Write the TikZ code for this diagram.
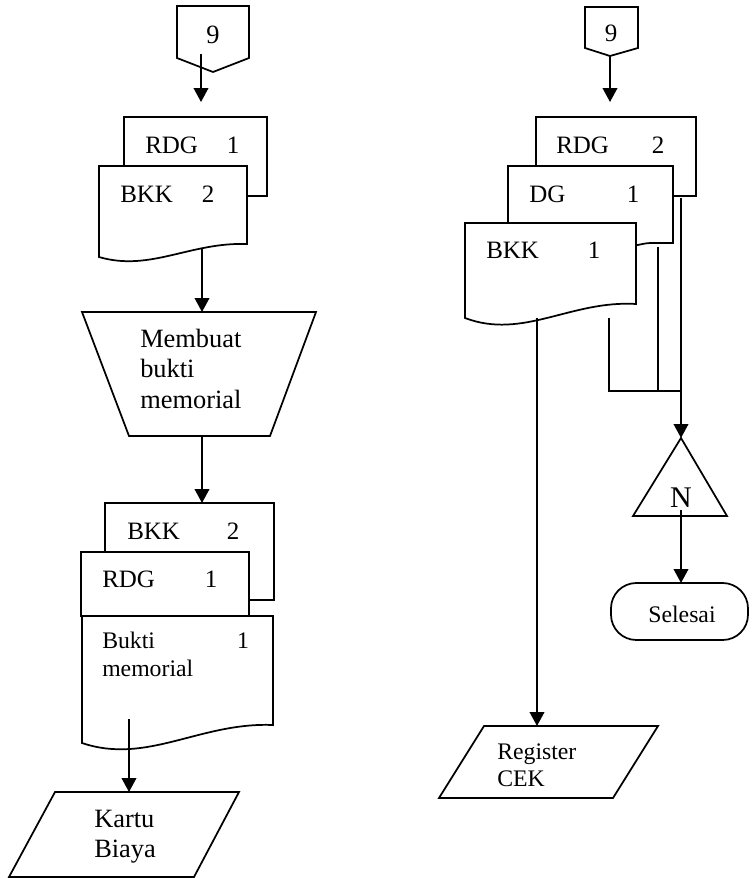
\documentclass[tikz,border=0pt]{standalone}
\usepackage{fontspec}
\setmainfont{Liberation Serif}
\usetikzlibrary{arrows.meta}
\begin{document}
\begin{tikzpicture}[x=0.75pt,y=-0.75pt,
  shp/.style={draw=black,line width=1.3pt,fill=white,line join=miter},
  conn/.style={draw=black,line width=1.3pt},
  arr/.style={conn,-{Triangle[length=10.5pt,width=11pt]}},
  lbl/.style={inner sep=0pt,font=\fontsize{18.75}{22}\selectfont},
  big/.style={lbl,font=\fontsize{19.8}{23}\selectfont},
  small/.style={lbl,font=\fontsize{17.8}{21}\selectfont}]
\useasboundingbox (0,0) rectangle (751,878);

% ---------------- left column ----------------
\draw[shp] (177,6) -- (249,6) -- (249,58) -- (213,72) -- (177,58) -- cycle;
\node[big,anchor=base] (n9L) at (213,43) {9};
\coordinate (c9Lout) at (201,54);
\coordinate (stackAin) at (201,102);
\draw[arr] (c9Lout) -- (stackAin);

\draw[shp] (124,117) rectangle (267,196);
\node[lbl,anchor=base west] (rdgA) at (145,153) {RDG};
\node[lbl,anchor=base] (rdgAn) at (233,153) {1};
\draw[shp] (99,166) -- (247,166) -- (247,244) .. controls (190,242) and (150,272) .. (99,257) -- cycle;
\node[lbl,anchor=base west] (bkkA) at (120,202) {BKK};
\node[lbl,anchor=base] (bkkAn) at (208,202) {2};

\coordinate (bkkAout) at (202,248);
\coordinate (trapIn) at (202,312);
\draw[arr] (bkkAout) -- (trapIn);

\draw[shp] (82,312) -- (316,312) -- (270,436) -- (129,436) -- cycle;
\node[big,anchor=base west] (t1) at (140,347) {Membuat};
\node[big,anchor=base west] (t2) at (140,377) {bukti};
\node[big,anchor=base west] (t3) at (140,408) {memorial};

\coordinate (trapOut) at (202,436);
\coordinate (stackBin) at (202,503);
\draw[arr] (trapOut) -- (stackBin);

\draw[shp] (105,503) rectangle (274,600);
\node[lbl,anchor=base west] (bkkB) at (127,539) {BKK};
\node[lbl,anchor=base] (bkkBn) at (233,539) {2};
\draw[shp] (81,552) rectangle (249,616);
\node[lbl,anchor=base west] (rdgB) at (102,587) {RDG};
\node[lbl,anchor=base] (rdgBn) at (211,587) {1};
\draw[shp] (82,616) -- (273,616) -- (273,725) .. controls (200,722) and (147,765) .. (82,743) -- cycle;
\node[small,anchor=base west] (bm1) at (102,648) {Bukti};
\node[small,anchor=base west] (bm2) at (102,676) {memorial};
\node[small,anchor=base] (bmn) at (243,648) {1};

\coordinate (bmOut) at (129,719);
\coordinate (kartuIn) at (129,792);
\draw[arr] (bmOut) -- (kartuIn);

\draw[shp] (55,792) -- (239,792) -- (194,877) -- (9,877) -- cycle;
\node[big,anchor=base west] (k1) at (94,827) {Kartu};
\node[big,anchor=base west] (k2) at (94,857) {Biaya};

% ---------------- right column ----------------
\draw[shp] (585,7) -- (638,7) -- (638,48) -- (610,56) -- (585,48) -- cycle;
\node[lbl,anchor=base] (n9R) at (611,41) {9};
\coordinate (c9Rout) at (610,56);
\coordinate (stackCin) at (610,102);
\draw[arr] (c9Rout) -- (stackCin);

\draw[shp] (536,117) rectangle (696,196);
\node[lbl,anchor=base west] (rdgC) at (556,153) {RDG};
\node[lbl,anchor=base] (rdgCn) at (658,153) {2};
\draw[shp] (508,166) -- (673,166) -- (673,243) -- (650,243) .. controls (630,244) and (600,262) .. (508,258) -- cycle;
\node[lbl,anchor=base west] (dgC) at (529,202) {DG};
\node[lbl,anchor=base] (dgCn) at (633,202) {1};
\draw[shp] (465,223) -- (636,223) -- (636,304) .. controls (571,300) and (523,340) .. (465,318) -- cycle;
\node[lbl,anchor=base west] (bkkC) at (486,258) {BKK};
\node[lbl,anchor=base] (bkkCn) at (594,258) {1};

\coordinate (bkkCout) at (537,318);
\coordinate (regIn) at (537,726);
\draw[arr] (bkkCout) -- (regIn);

\coordinate (bkkCout2) at (609,318);
\coordinate (dgCout) at (658,247);
\coordinate (rdgCout) at (681,198);
\coordinate (joinA) at (658,391);
\coordinate (joinB) at (681,391);
\coordinate (triIn) at (681,438);
\draw[conn] (bkkCout2) |- (joinB);
\draw[conn] (dgCout) -- (joinA);
\draw[arr] (rdgCout) -- (triIn);

\draw[shp] (681,438) -- (727,516) -- (633,516) -- cycle;
\node[lbl,font=\fontsize{22.5}{26}\selectfont,anchor=base] (nN) at (681,507) {N};
\coordinate (triOut) at (681,510);
\coordinate (endIn) at (681,583);
\draw[arr] (triOut) -- (endIn);

\draw[shp,rounded corners=19pt] (611,583) rectangle (748,640);
\node[small,anchor=base] (sel) at (682,622) {Selesai};

\draw[shp] (484,726) -- (658,726) -- (613,798) -- (439,798) -- cycle;
\node[small,anchor=base west] (r1) at (497,759) {Register};
\node[small,anchor=base west] (r2) at (497,786) {CEK};
\end{tikzpicture}
\end{document}
